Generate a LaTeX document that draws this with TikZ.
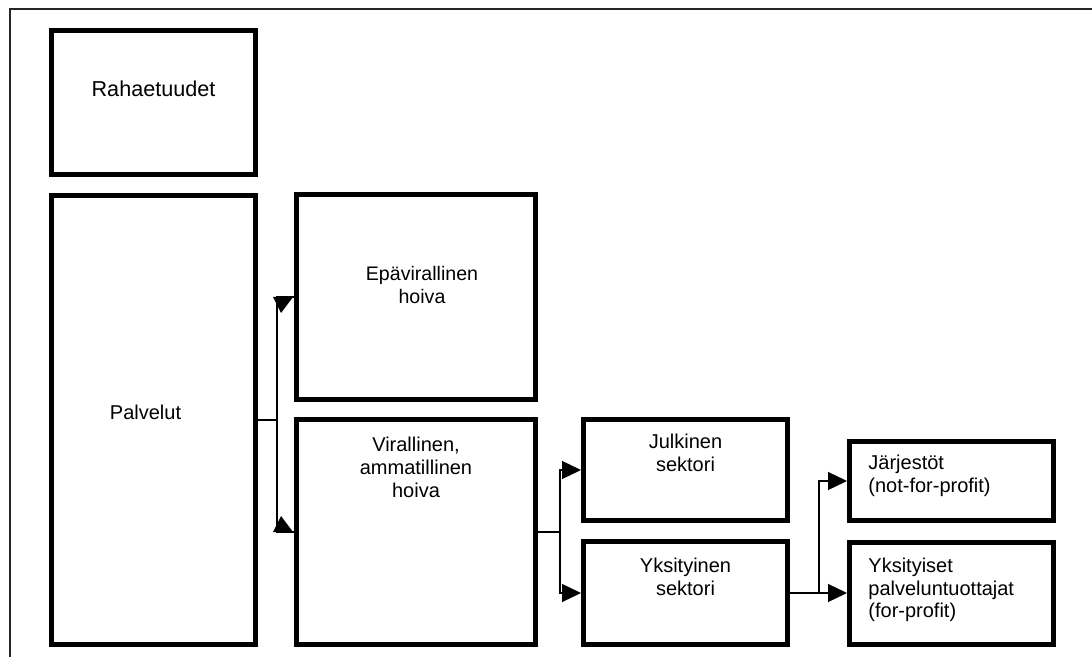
\documentclass[tikz,border=0pt]{standalone}
\usepackage{fontspec}
\setmainfont{Liberation Sans}
\usepackage{tikz}
\usetikzlibrary{arrows.meta,positioning,calc}
\tikzstyle{box}=[rectangle, draw=black, line width=2.5pt, inner sep=0pt, minimum width=102pt]
\tikzstyle{lab}=[inner sep=0pt, align=center, font=\fontsize{10}{11.35}\selectfont]
\tikzstyle{labl}=[inner sep=0pt, align=left, font=\fontsize{10}{11.35}\selectfont]
\tikzstyle{conn}=[draw=black, line width=0.6pt]
\tikzstyle{tip}=[-{Triangle[length=9.5pt,width=9pt]}]

\begin{document}
\begin{tikzpicture}[x=0.5pt, y=-0.5pt]
        %
        \useasboundingbox (0,0) rectangle (1092,657);
        \draw[line width=1pt, black!85] (10,657) -- (10,9) -- (1092,9);
        %
        \node at (153.5,102.5) [box, minimum height=72pt,
          label={[lab, anchor=north, yshift=-26pt, font=\fontsize{10.8}{12}\selectfont]north:Rahaetuudet}] (raha) {};
        \node at (153.5,420) [box, minimum height=224.5pt,
          label={[lab, anchor=center, yshift=4pt, xshift=-4pt]center:Palvelut}] (pal) {};
        \node at (416,297) [box, minimum width=119.5pt, minimum height=102.5pt,
          label={[lab, anchor=north, yshift=-37pt, xshift=3pt, font=\fontsize{9.8}{11.4}\selectfont]north:Epävirallinen\\hoiva}] (epa) {};
        \node at (416,532) [box, minimum width=119.5pt, minimum height=112.5pt,
          label={[lab, anchor=north, yshift=-10pt]north:Virallinen,\\ammatillinen\\hoiva}] (vir) {};
        \node at (685.5,470) [box, minimum height=50.5pt,
          label={[lab, anchor=north, yshift=-8.5pt]north:Julkinen\\sektori}] (jul) {};
        \node at (685.5,593) [box, minimum height=51.5pt,
          label={[lab, anchor=north, yshift=-9.5pt]north:Yksityinen\\sektori}] (yks) {};
        \node at (951.5,481) [box, minimum height=39.5pt,
          label={[labl, anchor=north west, yshift=-8pt, xshift=10.5pt]north west:Järjestöt\\(not-for-profit)}] (jar) {};
        \node at (951.5,593) [box, minimum height=51pt,
          label={[labl, anchor=north west, yshift=-9pt, xshift=10.5pt]north west:Yksityiset\\palveluntuottajat\\(for-profit)}] (ypt) {};
        %
        \draw[conn] (pal.east) -| ($(epa.west)+(-17,0)$) -- (epa.west);
        \draw[conn] (pal.east) -| ($(vir.west)+(-17,0)$) -- (vir.west);
        \fill ($(epa.west)+(-21,0)$) -- ++(20,0) -- ++(-12,16) -- cycle;
        \fill ($(vir.west)+(-21,0)$) -- ++(20,0) -- ++(-12,-16) -- cycle;
        %
        \draw[conn, tip] (vir.east) -| ($(jul.west)+(-21,0)$) -- (jul.west);
        \draw[conn, tip] (vir.east) -| ($(yks.west)+(-21,0)$) -- (yks.west);
        %
        \draw[conn, tip] (yks.east) -- (ypt.west);
        \draw[conn, tip] (yks.east) -- ++(29,0) |- (jar.west);
      %
      \end{tikzpicture}
\end{document}
